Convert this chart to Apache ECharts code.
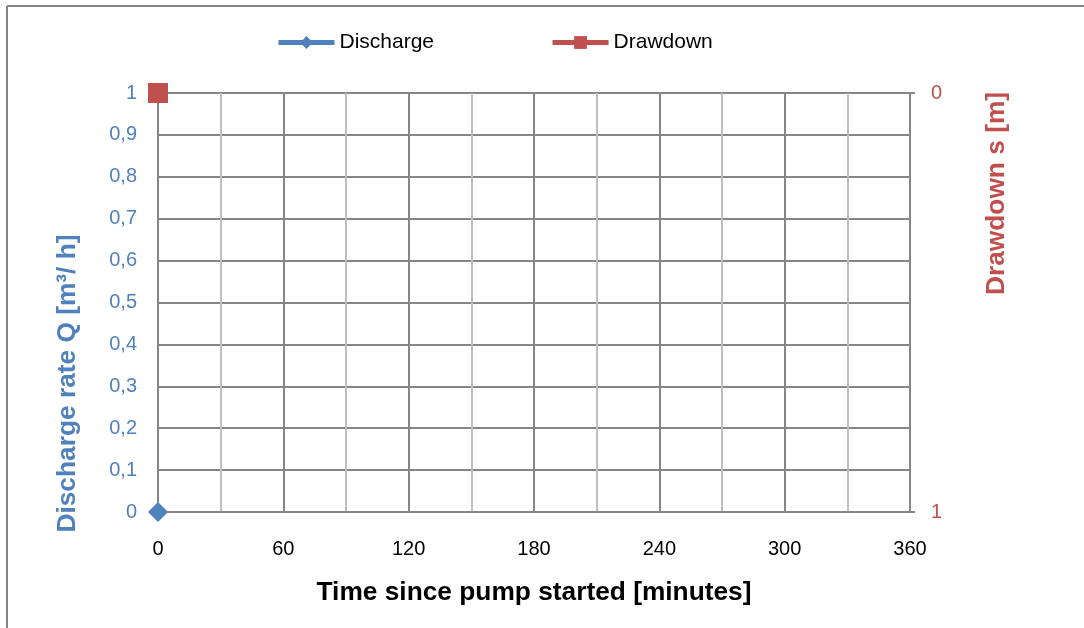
<!DOCTYPE html>
<html>
<head>
<meta charset="utf-8">
<script src="https://cdn.jsdelivr.net/npm/echarts@6/dist/echarts.min.js"></script>
<style>
  html, body { margin: 0; padding: 0; background: #fff; }
  #chart { width: 1084px; height: 628px; }
</style>
</head>
<body>
<div id="chart"></div>
<script>
// ---- data ----
var timeRange = [0, 360];          // minutes
var dischargeData = [[0, 0]];      // [time, Q]
var drawdownData = [[0, 0]];       // [time, s]
var seriesNames = ['Discharge', 'Drawdown'];

var chart = echarts.init(document.getElementById('chart'));
var font = 'Liberation Sans, Arial, sans-serif';
var gridGray = '#868686';

chart.setOption({
    backgroundColor: '#fff',
    animation: false,
    textStyle: { fontFamily: font },
    graphic: [
        { type: 'line', shape: { x1: 7, y1: 6, x2: 1084, y2: 6 }, style: { stroke: gridGray, lineWidth: 2 } },
        { type: 'line', shape: { x1: 7, y1: 6, x2: 7, y2: 628 }, style: { stroke: gridGray, lineWidth: 2 } }
    ],
    legend: {
        data: seriesNames,
        left: 276,
        top: 32,
        padding: 0,
        itemWidth: 56,
        itemHeight: 16,
        itemGap: 116,
        textGap: 0,
        lineStyle: { width: 5 },
        textStyle: { fontSize: 21, color: '#000', fontFamily: font }
    },
    grid: { left: 158, right: 174, top: 93, bottom: 116 },
    xAxis: {
        type: 'value',
        min: timeRange[0],
        max: timeRange[1],
        interval: 30,
        name: 'Time since pump started [minutes]',
        nameLocation: 'middle',
        nameGap: 68,
        nameTextStyle: { fontSize: 26.3, fontWeight: 'bold', color: '#000' },
        axisLine: { show: true, lineStyle: { color: gridGray, width: 2 } },
        axisTick: { show: false },
        axisLabel: {
            fontSize: 20, color: '#000', margin: 27,
            formatter: function (v) { return v % 60 === 0 ? String(v) : ''; }
        },
        splitLine: { show: true, lineStyle: { color: [gridGray, '#BFBFBF'], width: 2 } }
    },
    yAxis: [
        {
            type: 'value',
            min: 0,
            max: 1,
            interval: 0.1,
            position: 'left',
            name: 'Discharge rate Q [m³/ h]',
            nameLocation: 'middle',
            nameGap: 77,
            nameRotate: 90,
            nameTextStyle: { fontSize: 26.3, fontWeight: 'bold', color: '#4F81BD', padding: [0, 162, 0, 0] },
            axisLine: { show: true, lineStyle: { color: gridGray, width: 2 } },
            axisTick: { show: false },
            axisLabel: {
                fontSize: 20, color: '#4F81BD', margin: 21,
                formatter: function (v) { return String(Math.round(v * 10) / 10).replace('.', ','); }
            },
            splitLine: { show: true, lineStyle: { color: gridGray, width: 2 } }
        },
        {
            type: 'value',
            min: 0,
            max: 1,
            interval: 1,
            inverse: true,
            position: 'right',
            name: 'Drawdown s [m]',
            nameLocation: 'middle',
            nameGap: 74,
            nameRotate: 90,
            nameTextStyle: { fontSize: 26.3, fontWeight: 'bold', color: '#C0504D', padding: [0, 0, 0, 218] },
            axisLine: { show: true, lineStyle: { color: gridGray, width: 2 } },
            axisTick: { show: true, length: 5, lineStyle: { color: gridGray, width: 2 } },
            axisLabel: { fontSize: 20, color: '#C0504D', margin: 21 },
            splitLine: { show: false }
        }
    ],
    series: [
        {
            name: seriesNames[0],
            type: 'line',
            yAxisIndex: 0,
            data: dischargeData,
            symbol: 'diamond',
            symbolSize: 20,
            showSymbol: true,
            clip: false,
            itemStyle: { color: '#4F81BD' },
            lineStyle: { color: '#4F81BD', width: 5 }
        },
        {
            name: seriesNames[1],
            type: 'line',
            yAxisIndex: 1,
            data: drawdownData,
            symbol: 'rect',
            symbolSize: 20,
            showSymbol: true,
            clip: false,
            itemStyle: { color: '#C0504D' },
            lineStyle: { color: '#C0504D', width: 5 }
        }
    ]
});
</script>
</body>
</html>
